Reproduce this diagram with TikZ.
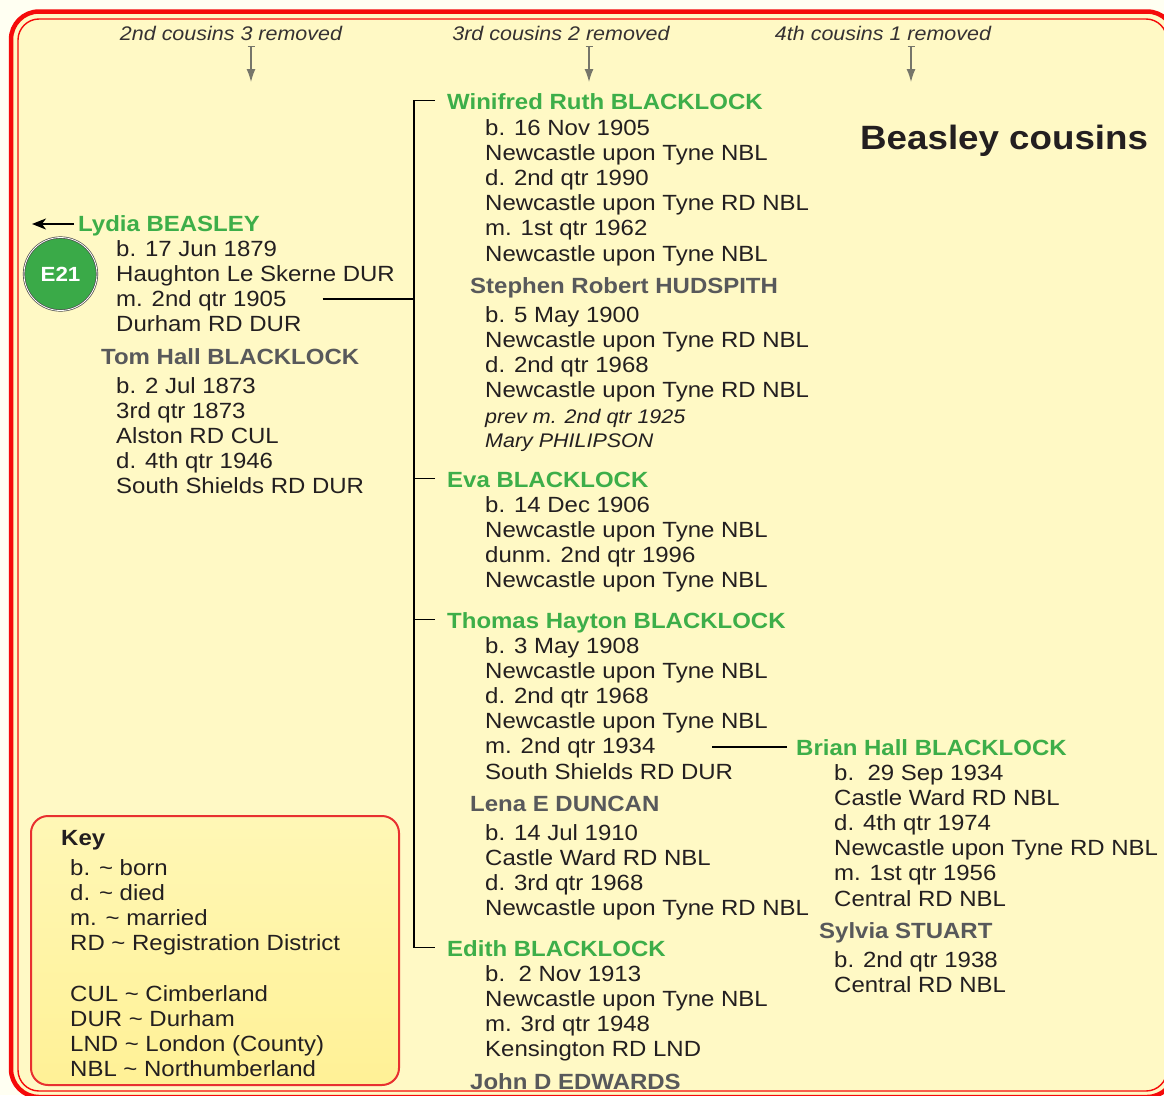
\documentclass[tikz,border=0pt]{standalone}
\usepackage{fontspec}
\setmainfont{Liberation Sans}[FakeStretch=1.09]
\usetikzlibrary{arrows.meta}
\definecolor{ink}{RGB}{35,31,32}
\definecolor{grn}{RGB}{61,174,73}
\definecolor{gry}{RGB}{88,89,91}
\definecolor{framered}{RGB}{245,10,10}
\definecolor{paper}{RGB}{255,249,197}
\definecolor{outside}{RGB}{255,255,242}
\definecolor{keytop}{RGB}{255,247,182}
\definecolor{keybot}{RGB}{255,241,150}
\definecolor{keyred}{RGB}{232,48,48}
\definecolor{arrg}{RGB}{118,118,106}
\definecolor{circgrn}{RGB}{58,170,72}
\newcommand\pplines[5][txt]{\foreach \tx [count=\i from 0] in {#5}{\node[#1] (#2-\i) at ({#3},{#4+25.2*\i}) {\tx};}}
\begin{document}
\begin{tikzpicture}[x=1pt,y=-1pt,
 txt/.style={anchor=base west,inner sep=0pt,text=ink,font=\fontsize{22}{25}\selectfont},
 nm/.style={txt,text=grn,font=\fontsize{22}{25}\selectfont\bfseries},
 sp/.style={txt,text=gry,font=\fontsize{22}{25}\selectfont\bfseries},
 itx/.style={txt,font=\fontsize{19.7}{24}\selectfont\itshape},
 hdr/.style={anchor=base,inner sep=0pt,text=ink!92,font=\fontsize{19.7}{24}\selectfont\itshape},
 conn/.style={draw=black,line width=1.8pt},
 garr/.style={draw=arrg,line width=1.3pt,{Bar[width=7pt,line width=1pt]}-{Latex[length=13pt,width=9pt]}},
]
\useasboundingbox (0,0) rectangle (1164,1095);
\fill[outside] (0,0) rectangle (1164,1095);
\begin{scope}
\clip (0,0) rectangle (1164,1095);
\draw[framered, line width=4.5pt, fill=paper, rounded corners=28pt] (11,11.5) rectangle (1175,1097);
\draw[framered, line width=1.4pt, rounded corners=21pt] (18,19) rectangle (1167,1091);
\end{scope}
% key box
\shade[top color=keytop,bottom color=keybot,rounded corners=17pt] (31,816) rectangle (399,1085);
\draw[keyred,line width=2pt,rounded corners=17pt] (31,816) rectangle (399,1085);
\node[txt,font=\fontsize{22}{25}\selectfont\bfseries] (key) at (61,845) {Key};
\pplines{keya}{70}{875}{b. \textasciitilde{} born, d. \textasciitilde{} died, m. \textasciitilde{} married, RD \textasciitilde{} Registration District}
\pplines{keyb}{70}{1001}{CUL \textasciitilde{} Cimberland, DUR \textasciitilde{} Durham, LND \textasciitilde{} London (County), NBL \textasciitilde{} Northumberland}
% headers
\node[hdr] (h1) at (231,40) {2nd cousins 3 removed};
\node[hdr] (h2) at (561,40) {3rd cousins 2 removed};
\node[hdr] (h3) at (883,40) {4th cousins 1 removed};
\draw[garr] ([shift={(20pt,-6pt)}]h1.base) -- ++(0,36);
\draw[garr] ([shift={(28pt,-6pt)}]h2.base) -- ++(0,36);
\draw[garr] ([shift={(28pt,-6pt)}]h3.base) -- ++(0,36);
% title
\node[txt,font=\fontsize{33.7}{36}\selectfont\bfseries] (title) at (860,149) {Beasley cousins};
% Lydia
\node[nm] (lyd) at (78,231) {Lydia BEASLEY};
\pplines{lyd}{116}{256}{b. 17 Jun 1879, Haughton Le Skerne DUR, m. 2nd qtr 1905, Durham RD DUR}
\draw[line width=1.5pt,-{Stealth[length=14pt,width=11pt,inset=4pt]}] ([shift={(-4pt,7pt)}]lyd.base west) -- ++(-42,0);
\node[circle,draw=black!70,double=white,double distance=0.8pt,line width=0.7pt,fill=circgrn,minimum size=73pt,inner sep=0pt,text=white,font=\fontsize{20.5}{22}\selectfont\bfseries] (e21) at (60.5,274) {E21};
\node[sp] (tom) at (101,364) {Tom Hall BLACKLOCK};
\pplines{tom}{116}{393}{b. 2 Jul 1873, 3rd qtr 1873, Alston RD CUL, d. 4th qtr 1946, South Shields RD DUR}
% children
\node[nm] (win) at (447,109) {Winifred Ruth BLACKLOCK};
\pplines{win}{485}{135}{b. 16 Nov 1905, Newcastle upon Tyne NBL, d. 2nd qtr 1990, Newcastle upon Tyne RD NBL, m. 1st qtr 1962, Newcastle upon Tyne NBL}
\node[sp] (ste) at (470,293) {Stephen Robert HUDSPITH};
\pplines{ste}{485}{322}{b. 5 May 1900, Newcastle upon Tyne RD NBL, d. 2nd qtr 1968, Newcastle upon Tyne RD NBL}
\node[itx] (stea) at (485,423) {prev m. 2nd qtr 1925};
\node[itx] (steb) at (485,447) {Mary PHILIPSON};
\node[nm] (eva) at (447,487) {Eva BLACKLOCK};
\pplines{eva}{485}{512}{b. 14 Dec 1906, Newcastle upon Tyne NBL, dunm. 2nd qtr 1996, Newcastle upon Tyne NBL}
\node[nm] (tho) at (447,628) {Thomas Hayton BLACKLOCK};
\pplines{tho}{485}{653}{b. 3 May 1908, Newcastle upon Tyne NBL, d. 2nd qtr 1968, Newcastle upon Tyne NBL, m. 2nd qtr 1934, South Shields RD DUR}
\node[sp] (len) at (470,811) {Lena E DUNCAN};
\pplines{len}{485}{840}{b. 14 Jul 1910, Castle Ward RD NBL, d. 3rd qtr 1968, Newcastle upon Tyne RD NBL}
\node[nm] (edi) at (447,956) {Edith BLACKLOCK};
\pplines{edi}{485}{981}{b.\ \ 2 Nov 1913, Newcastle upon Tyne NBL, m. 3rd qtr 1948, Kensington RD LND}
\node[sp] (joh) at (470,1089) {John D EDWARDS};
% grandchild
\node[nm] (bri) at (796,755) {Brian Hall BLACKLOCK};
\pplines{bri}{834}{780}{b.\ \ 29 Sep 1934, Castle Ward RD NBL, d. 4th qtr 1974, Newcastle upon Tyne RD NBL, m. 1st qtr 1956, Central RD NBL}
\node[sp] (syl) at (819,938) {Sylvia STUART};
\pplines{syl}{834}{967}{b. 2nd qtr 1938, Central RD NBL}
% connectors
\coordinate (wt) at ([shift={(-12pt,8.5pt)}]win.base west);
\coordinate (et) at ([shift={(-12pt,8.5pt)}]edi.base west);
\coordinate (bus) at ([xshift=-21pt]wt);
\draw[conn] (wt) -- (bus) |- (et);
\draw[conn] ([shift={(-12pt,8.5pt)}]eva.base west) -- ++(-21,0);
\draw[conn] ([shift={(-12pt,8.5pt)}]tho.base west) -- ++(-21,0);
\coordinate (lm) at ([shift={(36pt,7.5pt)}]lyd-2.base east);
\draw[conn] (lm) -- (lm -| bus);
\draw[conn] ([shift={(-9pt,8pt)}]bri.base west) -- ++(-75,0);
\end{tikzpicture}
\end{document}
